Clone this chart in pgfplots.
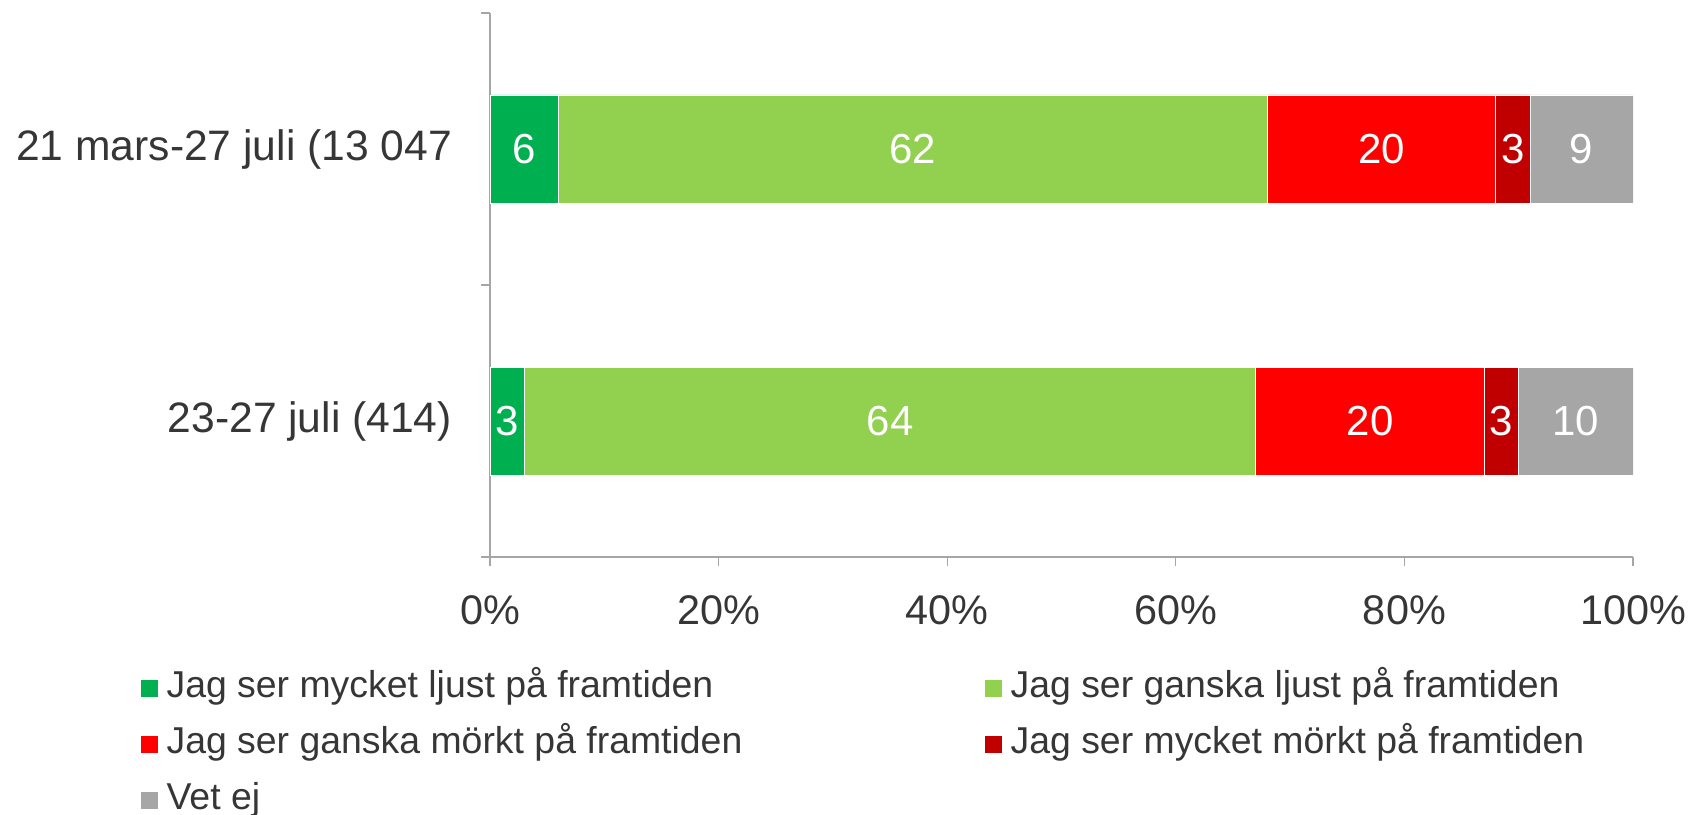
\documentclass[border=0pt]{standalone}
\usepackage{pgfplots}
\usepackage{pgfplotstable}
\pgfplotsset{compat=1.18}
\usepackage{fontspec}
\setmainfont{Liberation Sans}
\definecolor{cA}{HTML}{00B050}
\definecolor{cB}{HTML}{92D050}
\definecolor{cC}{HTML}{FF0000}
\definecolor{cD}{HTML}{C00000}
\definecolor{cE}{HTML}{A6A6A6}
\definecolor{txt}{HTML}{363636}
\definecolor{axc}{HTML}{A6A6A6}
% y = 1: 21 mars-27 juli, y = 0: 23-27 juli
\pgfplotstableread{
y v
1 6
0 3
}\tA
\pgfplotstableread{
y v
1 62
0 64
}\tB
\pgfplotstableread{
y v
1 20
0 20
}\tC
\pgfplotstableread{
y v
1 3
0 3
}\tD
\pgfplotstableread{
y v
1 9
0 10
}\tE
\begin{document}
\begin{tikzpicture}
\path[use as bounding box] (0,0) rectangle (848pt,407pt);
\begin{axis}[
  at={(245pt,128.5pt)}, anchor=south west,
  scale only axis, width=571.5pt, height=272pt,
  xbar stacked, bar width=54pt,
  xmin=0, xmax=100, ymin=-0.5, ymax=1.5,
  axis lines*=left,
  axis line style={draw=axc, line width=0.8pt, -},
  tick align=outside,
  major tick length=4.5pt,
  tick style={draw=axc, line width=0.6pt},
  xtick={0,20,40,60,80,100},
  xticklabels={0\%,20\%,40\%,60\%,80\%,100\%},
  xticklabel style={font=\fontsize{20.7}{24}\selectfont, text=txt, yshift=-11.5pt},
  ytick={-0.5,0.5,1.5},
  yticklabels={},
  extra y ticks={0,1},
  extra y tick labels={23-27 juli (414),21 mars-27 juli (13 047},
  extra y tick style={major tick length=0pt,
    yticklabel style={font=\fontsize{21.3}{25}\selectfont, text=txt, xshift=-15.5pt}},
  legend columns=2,
  legend cell align=left,
  legend style={at={(rel axis cs:0,0)}, anchor=north west,
    xshift=-174.5pt, yshift=-55.5pt, draw=none, fill=none, inner sep=0pt,
    font=\fontsize{18.7}{22}\selectfont, text=txt,
    nodes={inner sep=1.5pt, text height=13pt, text depth=4pt},
    row sep=8pt,
    /tikz/every even column/.append style={column sep=120pt}},
  point meta=explicit symbolic,
  nodes near coords={\pgfplotspointmeta},
  every node near coord/.append style={anchor=center, text=white,
    font=\fontsize{21}{24}\selectfont},
]
\addplot[fill=cA, draw=white, line width=0.4pt,
  legend image code/.code={\fill[cA] (0pt,-4pt) rectangle (8pt,4pt); \path (10.7pt,0pt);}]
  table[x=v, y=y, meta=v] {\tA};
\addlegendentry{Jag ser mycket ljust på framtiden}
\addplot[fill=cB, draw=white, line width=0.4pt,
  legend image code/.code={\fill[cB] (0pt,-4pt) rectangle (8pt,4pt); \path (10.7pt,0pt);}]
  table[x=v, y=y, meta=v] {\tB};
\addlegendentry{Jag ser ganska ljust på framtiden}
\addplot[fill=cC, draw=white, line width=0.4pt,
  legend image code/.code={\fill[cC] (0pt,-4pt) rectangle (8pt,4pt); \path (10.7pt,0pt);}]
  table[x=v, y=y, meta=v] {\tC};
\addlegendentry{Jag ser ganska mörkt på framtiden}
\addplot[fill=cD, draw=white, line width=0.4pt,
  legend image code/.code={\fill[cD] (0pt,-4pt) rectangle (8pt,4pt); \path (10.7pt,0pt);}]
  table[x=v, y=y, meta=v] {\tD};
\addlegendentry{Jag ser mycket mörkt på framtiden}
\addplot[fill=cE, draw=white, line width=0.4pt,
  legend image code/.code={\fill[cE] (0pt,-4pt) rectangle (8pt,4pt); \path (10.7pt,0pt);}]
  table[x=v, y=y, meta=v] {\tE};
\addlegendentry{Vet ej}
\end{axis}
\end{tikzpicture}
\end{document}
